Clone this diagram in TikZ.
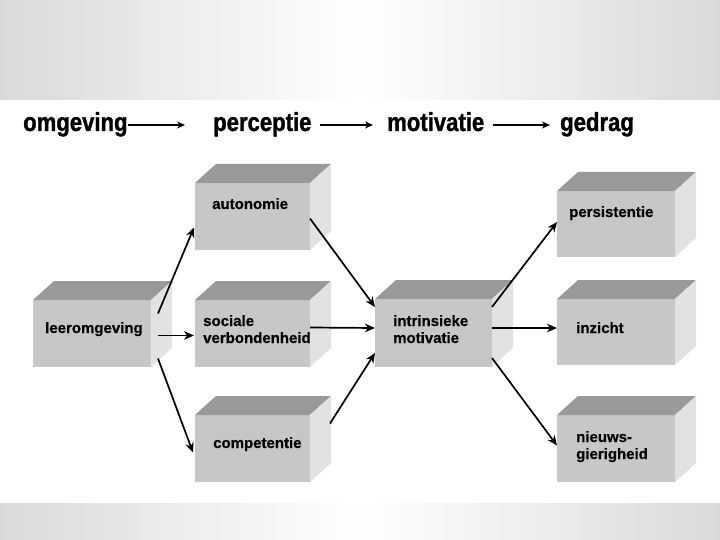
\documentclass[tikz,border=0pt]{standalone}
\usepackage{fontspec}
\setmainfont{Liberation Sans}
\newfontfamily\headfont[FakeStretch=0.85,FakeBold=1.2]{Liberation Sans}
\newfontfamily\boxfont[FakeBold=0.6]{Liberation Sans}
\usetikzlibrary{arrows.meta}
\definecolor{frontc}{RGB}{199,199,199}
\definecolor{topc}{RGB}{153,153,153}
\definecolor{sidec}{RGB}{226,226,226}
\definecolor{bandc}{RGB}{218,218,218}
\tikzset{
  front/.style={fill=frontc, draw=none, inner sep=0pt, outer sep=0pt, minimum width=116pt, minimum height=67pt},
  boxtext/.style={anchor=base west, inner sep=0pt, align=left, font=\boxfont\bfseries\fontsize{15}{17}\selectfont},
  headtext/.style={anchor=base west, inner sep=0pt, font=\headfont\bfseries\fontsize{26}{30}\selectfont},
  conn/.style={line width=1.7pt, -{Stealth[length=10pt,width=8.5pt]}},
  hconn/.style={line width=1.4pt, -{Stealth[length=8pt,width=7pt]}}
}
\newcommand\cubefaces[1]{%
  \fill[topc] (#1.north west) -- ++(21,-19) -- ([shift={(21,-19)}]#1.north east) -- (#1.north east) -- cycle;
  \fill[sidec] (#1.north east) -- ++(21,-19) -- ([shift={(21,-19)}]#1.south east) -- (#1.south east) -- cycle;
}
\begin{document}
\begin{tikzpicture}[x=1pt,y=-1pt]
\useasboundingbox (0,0) rectangle (720,540);
\fill[white] (0,0) rectangle (720,540);
\shade[left color=bandc, right color=bandc, middle color=white] (0,0) rectangle (720,100);
\shade[left color=bandc, right color=bandc, middle color=white] (0,503) rectangle (720,540);

% header
\node[headtext] (h1) at (23,131) {omgeving};
\node[headtext] (h2) at (213,131) {perceptie};
\node[headtext] (h3) at (387,131) {motivatie};
\node[headtext] (h4) at (560,131) {gedrag};
\draw[hconn] ([yshift=6pt]h1.base east) -- ([xshift=-28pt,yshift=6pt]h2.base west);
\draw[hconn] ([xshift=8pt,yshift=6pt]h2.base east) -- ([xshift=-14pt,yshift=6pt]h3.base west);
\draw[hconn] ([xshift=9pt,yshift=6pt]h3.base east) -- ([xshift=-10pt,yshift=6pt]h4.base west);

% boxes
\node[front, minimum width=118pt] (leer) at (92,333.5) {};
\node[front, minimum width=115pt] (auto) at (252.5,216.5) {};
\node[front, minimum width=115pt] (soc) at (252.5,333.5) {};
\node[front, minimum width=115pt] (comp) at (252.5,448.5) {};
\node[front, minimum width=117pt, minimum height=68pt] (intr) at (433.5,333) {};
\node[front, minimum width=118pt, minimum height=66pt] (pers) at (616,224) {};
\node[front, minimum width=118pt, minimum height=66pt] (inz) at (616,332) {};
\node[front, minimum width=118pt] (nieuw) at (616,448.5) {};
\cubefaces{leer}
\cubefaces{auto}
\cubefaces{soc}
\cubefaces{comp}
\cubefaces{intr}
\cubefaces{pers}
\cubefaces{inz}
\cubefaces{nieuw}

\node[boxtext] (tleer) at (45,333) {leeromgeving};
\node[boxtext] (tauto) at (212,209) {autonomie};
\node[boxtext] (tsoc) at (203,343) {sociale\\verbondenheid};
\node[boxtext] (tcomp) at (213,448) {competentie};
\node[boxtext] (tintr) at (393,343) {intrinsieke\\motivatie};
\node[boxtext] (tpers) at (569,217) {persistentie};
\node[boxtext] (tinz) at (576,333) {inzicht};
\node[boxtext] (tnieuw) at (576,459) {nieuws-\\gierigheid};

% connectors
\draw[conn] ([shift={(7,-20)}]leer.east) -- ([shift={(-1,11)}]auto.west);
\draw[conn] ([shift={(7,2)}]leer.east) -- ([shift={(-1,2)}]soc.west);
\draw[conn] ([shift={(7,25)}]leer.east) -- ([shift={(-2,4)}]comp.west);
\draw[conn] ([shift={(0,2)}]auto.east) -- ([shift={(0,-26)}]intr.west);
\draw[conn] ([shift={(0,-6)}]soc.east) -- ([shift={(0,-5)}]intr.west);
\draw[conn] ([shift={(20,-25)}]comp.east) -- ([shift={(0,20)}]intr.west);
\draw[conn] ([shift={(0,-26)}]intr.east) -- ([shift={(0,-2)}]pers.west);
\draw[conn] ([shift={(0,-5)}]intr.east) -- ([shift={(0,-4)}]inz.west);
\draw[conn] ([shift={(0,25)}]intr.east) -- ([shift={(0,-3)}]nieuw.west);
\end{tikzpicture}
\end{document}
